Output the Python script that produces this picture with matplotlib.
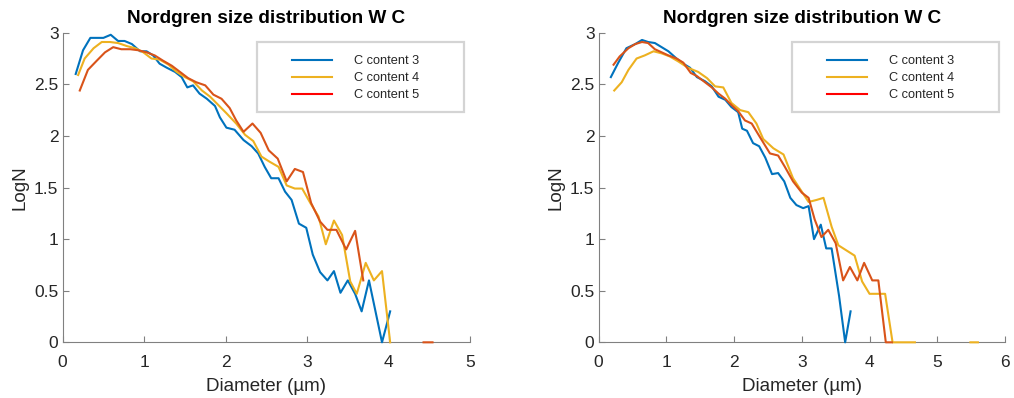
import numpy as np
import matplotlib
matplotlib.use('Agg')
import matplotlib.pyplot as plt
from matplotlib.patches import Rectangle
from matplotlib.lines import Line2D
from matplotlib.ticker import FormatStrFormatter

plt.rcParams['font.family'] = ['Liberation Sans', 'DejaVu Sans']

# left panel
lx3 = [0.16, 0.25, 0.34, 0.42, 0.50, 0.59, 0.68, 0.76, 0.85, 0.95, 1.03, 1.11, 1.19, 1.28, 1.38,
       1.46, 1.53, 1.60, 1.68, 1.77, 1.87, 1.93, 2.01, 2.11, 2.22, 2.32, 2.40, 2.48, 2.56, 2.65,
       2.73, 2.81, 2.90, 2.99, 3.07, 3.16, 3.25, 3.33, 3.41, 3.50, 3.59, 3.67, 3.76, 3.84, 3.92, 4.02]
ly3 = [2.60, 2.83, 2.95, 2.95, 2.95, 2.98, 2.92, 2.92, 2.89, 2.82, 2.82, 2.78, 2.70, 2.66, 2.62,
       2.57, 2.47, 2.49, 2.41, 2.36, 2.29, 2.18, 2.08, 2.06, 1.96, 1.90, 1.83, 1.70, 1.59, 1.59,
       1.46, 1.38, 1.15, 1.11, 0.85, 0.68, 0.60, 0.69, 0.48, 0.60, 0.47, 0.30, 0.60, 0.30, 0.0, 0.30]

lx4 = [0.19, 0.27, 0.38, 0.48, 0.58, 0.68, 0.79, 0.89, 0.99, 1.09, 1.19, 1.30, 1.40, 1.50, 1.60,
       1.71, 1.81, 1.91, 2.01, 2.13, 2.24, 2.34, 2.44, 2.54, 2.65, 2.75, 2.85, 2.94, 3.04, 3.14,
       3.23, 3.33, 3.43, 3.53, 3.61, 3.72, 3.82, 3.92, 4.02]
ly4 = [2.59, 2.75, 2.85, 2.91, 2.91, 2.90, 2.87, 2.85, 2.81, 2.75, 2.74, 2.69, 2.62, 2.57, 2.53,
       2.44, 2.38, 2.30, 2.22, 2.12, 2.01, 1.95, 1.80, 1.75, 1.70, 1.52, 1.49, 1.49, 1.35, 1.22,
       0.95, 1.18, 1.04, 0.59, 0.47, 0.77, 0.60, 0.69, 0.0]

lx5 = [0.21, 0.31, 0.42, 0.52, 0.62, 0.72, 0.83, 0.93, 1.03, 1.13, 1.23, 1.34, 1.44, 1.54, 1.64,
       1.75, 1.85, 1.95, 2.05, 2.13, 2.22, 2.33, 2.43, 2.53, 2.64, 2.75, 2.85, 2.95, 3.05, 3.16,
       3.25, 3.36, 3.48, 3.59, 3.69, np.nan, 4.43, 4.54]
ly5 = [2.44, 2.64, 2.73, 2.81, 2.86, 2.84, 2.84, 2.83, 2.81, 2.78, 2.73, 2.68, 2.62, 2.56, 2.52,
       2.49, 2.40, 2.36, 2.27, 2.15, 2.04, 2.12, 2.03, 1.86, 1.78, 1.56, 1.68, 1.65, 1.35, 1.17,
       1.09, 1.09, 0.90, 1.08, 0.60, np.nan, 0.0, 0.0]

# right panel
rx3 = [0.18, 0.29, 0.41, 0.54, 0.64, 0.73, 0.83, 0.93, 1.03, 1.15, 1.25, 1.35, 1.45, 1.57, 1.67,
       1.77, 1.87, 1.96, 2.06, 2.12, 2.19, 2.28, 2.37, 2.46, 2.56, 2.65, 2.74, 2.83, 2.92, 3.02,
       3.10, 3.18, 3.28, 3.36, 3.44, 3.55, 3.64, 3.72]
ry3 = [2.57, 2.71, 2.85, 2.89, 2.93, 2.91, 2.90, 2.86, 2.82, 2.75, 2.70, 2.66, 2.57, 2.53, 2.48,
       2.38, 2.35, 2.28, 2.23, 2.07, 2.05, 1.93, 1.90, 1.79, 1.63, 1.64, 1.56, 1.40, 1.33, 1.30,
       1.32, 1.00, 1.14, 0.91, 0.91, 0.45, 0.0, 0.30]

rx4 = [0.23, 0.34, 0.44, 0.56, 0.68, 0.81, 0.93, 1.05, 1.18, 1.32, 1.47, 1.60, 1.72, 1.84, 1.96,
       2.09, 2.21, 2.33, 2.43, 2.58, 2.73, 2.87, 3.02, 3.10, 3.22, 3.32, 3.44, 3.54, 3.78, 3.89,
       4.00, 4.23, 4.34, 4.67, np.nan, 5.49, 5.60]
ry4 = [2.44, 2.52, 2.64, 2.75, 2.78, 2.82, 2.80, 2.77, 2.72, 2.66, 2.62, 2.56, 2.48, 2.47, 2.32,
       2.25, 2.23, 2.12, 1.97, 1.88, 1.82, 1.59, 1.44, 1.36, 1.38, 1.40, 1.12, 0.94, 0.84, 0.59,
       0.47, 0.47, 0.0, 0.0, np.nan, 0.0, 0.0]

rx5 = [0.22, 0.31, 0.44, 0.54, 0.64, 0.73, 0.83, 0.93, 1.03, 1.15, 1.25, 1.36, 1.45, 1.57, 1.67,
       1.77, 1.87, 1.96, 2.06, 2.16, 2.26, 2.38, 2.53, 2.65, 2.75, 2.87, 3.00, 3.10, 3.19, 3.29,
       3.39, 3.50, 3.61, 3.71, 3.82, 3.92, 4.04, 4.13, 4.24, 4.33]
ry5 = [2.69, 2.77, 2.85, 2.89, 2.91, 2.90, 2.84, 2.81, 2.78, 2.75, 2.71, 2.61, 2.58, 2.52, 2.47,
       2.41, 2.36, 2.30, 2.24, 2.15, 2.12, 1.99, 1.83, 1.81, 1.70, 1.56, 1.45, 1.40, 1.19, 1.02,
       1.09, 0.96, 0.60, 0.73, 0.60, 0.77, 0.60, 0.60, 0.0, 0.0]

labels = ['C content 3', 'C content 4', 'C content 5']
colors = ['#0072BD', '#EDB120', '#D95319']
legend_colors = ['#0072BD', '#EDB120', '#FF0000']
xmax = [5, 6]

fig = plt.figure(figsize=(10.14, 3.98), dpi=100)
ax1 = fig.add_axes([0.0618, 0.1399, 0.4017, 0.7779])
ax2 = fig.add_axes([0.5904, 0.1399, 0.4007, 0.7779])

panels = [
    (ax1, [(lx3, ly3), (lx4, ly4), (lx5, ly5)]),
    (ax2, [(rx3, ry3), (rx4, ry4), (rx5, ry5)]),
]

for i, (ax, series) in enumerate(panels):
    for (x, y), c in zip(series, colors):
        ax.plot(x, y, color=c, lw=1.5, clip_on=False, zorder=4)
    ax.set_xlim(0, xmax[i])
    ax.set_ylim(0, 3)
    ax.set_xticks(range(xmax[i] + 1))
    ax.set_yticks(np.arange(0, 3.01, 0.5))
    ax.yaxis.set_major_formatter(FormatStrFormatter('%g'))
    for s in ['top', 'right']:
        ax.spines[s].set_visible(False)
    for s in ['left', 'bottom']:
        ax.spines[s].set_color('#808080')
        ax.spines[s].set_linewidth(0.8)
    ax.tick_params(direction='in', length=4, width=0.8, color='#808080',
                   labelsize=12.5, labelcolor='#262626')
    ax.tick_params(axis='x', pad=9)
    ax.tick_params(axis='y', pad=3)
    ax.set_title('Nordgren size distribution W C', fontsize=13.7, fontweight='bold', pad=7)
    ax.set_xlabel('Diameter (µm)', fontsize=13.5, color='#262626', labelpad=6)
    ax.set_ylabel('LogN', fontsize=13.5, color='#262626', labelpad=4)

    # legend box
    ax.add_patch(Rectangle((0.476, 0.745), 0.509, 0.226, transform=ax.transAxes,
                           facecolor='white', edgecolor='#d4d4d4', lw=1.6,
                           clip_on=False, zorder=5))
    handles = [Line2D([], [], color=c, lw=1.5) for c in legend_colors]
    leg = ax.legend(handles, labels, loc='upper left', bbox_to_anchor=(0.563, 0.928),
                    frameon=False, fontsize=9.2, borderpad=0, borderaxespad=0,
                    handlelength=3.1, handletextpad=1.75, labelspacing=0.4)
    leg.set_zorder(6)
    for t in leg.get_texts():
        t.set_color('#262626')

fig.savefig('out.png', dpi=100)
